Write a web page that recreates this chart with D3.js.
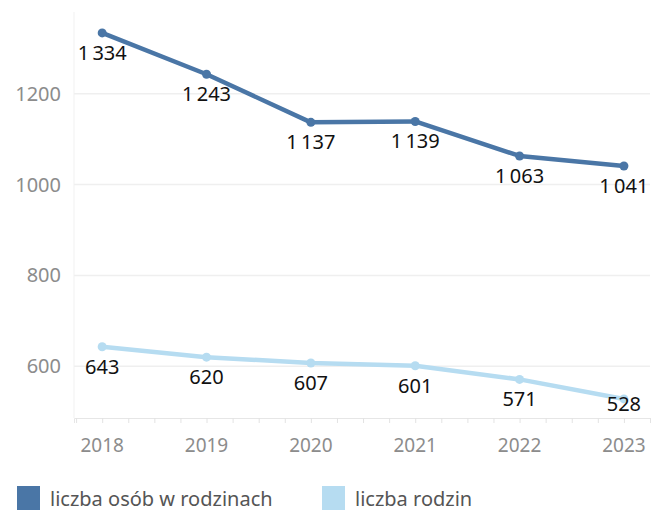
<!DOCTYPE html>
<html>
<head>
<meta charset="utf-8">
<script src="https://cdn.jsdelivr.net/npm/d3@7"></script>
<style>
body { margin: 0; background: #fff; }
text { font-family: "Noto Sans", sans-serif; }
</style>
</head>
<body>
<script>
var w = 651;
var h = 510;
var years = [2018, 2019, 2020, 2021, 2022, 2023];
var persons = [1334, 1243, 1137, 1139, 1063, 1041];
var families = [643, 620, 607, 601, 571, 528];
var yTicks = [600, 800, 1000, 1200];
var seriesNames = ["liczba osób w rodzinach", "liczba rodzin"];
var colors = ["#4a76a6", "#b6dcf1"];

var svg = d3.select("body").append("svg")
	.attr("width", w)
	.attr("height", h);

var x = d3.scaleLinear().domain([2017.73, 2023.25]).range([74, 650]);
var y = d3.scaleLinear().domain([486, 1380]).range([418, 12]);

// gridlines
svg.append("g").selectAll("line")
	.data(yTicks).enter()
	.append("line")
	.attr("x1", 74).attr("x2", 650)
	.attr("y1", function(d) { return y(d); })
	.attr("y2", function(d) { return y(d); })
	.attr("stroke", "#efefef")
	.attr("stroke-width", 1.5);

svg.append("line")
	.attr("x1", 74).attr("x2", 74)
	.attr("y1", 12).attr("y2", 418)
	.attr("stroke", "#f1f1f1");

// y labels
svg.append("g").selectAll("text")
	.data(yTicks).enter()
	.append("text")
	.attr("x", 61)
	.attr("y", function(d) { return y(d); })
	.attr("dy", "0.35em")
	.attr("text-anchor", "end")
	.attr("font-size", "20px")
	.attr("fill", "#8c8c8c")
	.text(function(d) { return d; });

// x axis
var xAxis = d3.axisBottom(x)
	.tickValues(d3.range(2017.75, 2023.26, 0.25))
	.tickSize(5)
	.tickFormat("");
var gx = svg.append("g").attr("transform", "translate(0,418)").call(xAxis);
gx.select(".domain").attr("stroke", "#e6e6e6");
gx.selectAll(".tick line").attr("stroke", "#e3e3e3");

svg.append("g").selectAll("text")
	.data(years).enter()
	.append("text")
	.attr("x", function(d) { return x(d); })
	.attr("y", 452)
	.attr("text-anchor", "middle")
	.attr("font-size", "19px")
	.attr("fill", "#8c8c8c")
	.text(function(d) { return d; });

var fmt = function(v) {
	var s = String(v);
	return s.length > 3 ? s.slice(0, s.length - 3) + "\u2009" + s.slice(-3) : s;
};

function drawSeries(vals, color) {
	var line = d3.line()
		.x(function(d, i) { return x(years[i]); })
		.y(function(d) { return y(d); });
	svg.append("path")
		.datum(vals)
		.attr("d", line)
		.attr("fill", "none")
		.attr("stroke", color)
		.attr("stroke-width", 4.5)
		.attr("stroke-linejoin", "round");
	svg.append("g").selectAll("circle")
		.data(vals).enter()
		.append("circle")
		.attr("cx", function(d, i) { return x(years[i]); })
		.attr("cy", function(d) { return y(d); })
		.attr("r", 4.5)
		.attr("fill", color);
	svg.append("g").selectAll("text")
		.data(vals).enter()
		.append("text")
		.attr("x", function(d, i) { return Math.min(x(years[i]), 628); })
		.attr("y", function(d) { return Math.min(y(d) + 27, 411); })
		.attr("text-anchor", "middle")
		.attr("font-size", "20px")
		.attr("fill", "#111")
		.text(function(d) { return fmt(d); });
}
drawSeries(persons, colors[0]);
drawSeries(families, colors[1]);

// legend
var legX = [17, 322];
seriesNames.forEach(function(name, i) {
	svg.append("rect")
		.attr("x", legX[i]).attr("y", 486)
		.attr("width", 23).attr("height", 24)
		.attr("fill", colors[i]);
	svg.append("text")
		.attr("x", legX[i] + 33).attr("y", 506)
		.attr("font-size", "20px")
		.attr("fill", "#555")
		.text(name);
});
</script>
</body>
</html>
